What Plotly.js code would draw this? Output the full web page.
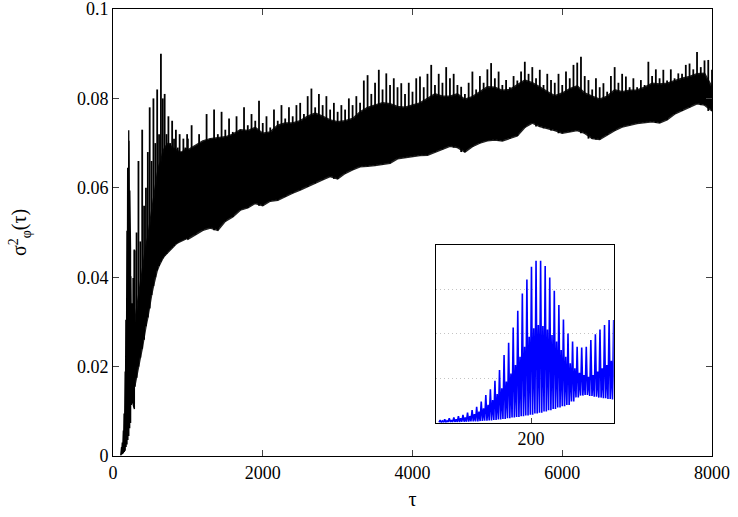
<!DOCTYPE html>
<html><head><meta charset="utf-8">
<script src="https://cdn.plot.ly/plotly-3.0.1.min.js"></script>
<style>html,body{margin:0;padding:0;background:#fff}</style>
</head><body><div id="chart" style="width:738px;height:517px"></div>
<script>
// ---- inset signal (zoom of the first rise, tau ~ 100..287) ----
const insetStartTau = 104.5, insetStepTau = 4.8;
const insetTallPeaks = [0.0012,0.0015,0.0020,0.0024,0.0030,0.0035,0.0045,0.0057,0.0072,0.0095,
  0.0125,0.0150,0.0189,0.0237,0.0305,0.0360,0.0429,0.0504,0.0582,0.0645,
  0.0702,0.0729,0.0729,0.0705,0.0654,0.0594,0.0530,0.0465,0.0402,0.0365,
  0.0342,0.0339,0.0342,0.0372,0.0398,0.0420,0.0440,0.0462,0.0462];
const insetSecondPeaks = [0.0008,0.0009,0.0012,0.0015,0.0020,0.0023,0.0030,0.0039,0.0050,0.0065,
  0.0080,0.0102,0.0129,0.0155,0.0185,0.0222,0.0260,0.0297,0.0342,0.0387,
  0.0425,0.0440,0.0435,0.0420,0.0395,0.0365,0.0327,0.0297,0.0267,0.0245,
  0.0225,0.0215,0.0207,0.0215,0.0230,0.0245,0.0260,0.0279,0.0285];
const insetTroughs = [0.00015,0.00015,0.0003,0.0003,0.0003,0.00045,0.00045,0.0006,0.0006,0.00075,
  0.0009,0.00105,0.0012,0.0015,0.00165,0.0020,0.0023,0.0026,0.0029,0.0032,
  0.0036,0.0041,0.0045,0.0050,0.0056,0.0062,0.0068,0.0074,0.0080,0.0095,
  0.0114,0.0122,0.0125,0.0120,0.0117,0.0113,0.0110,0.0107,0.0105];

// ---- main band: spike tips, solid top of the band, bottom of the band ----
const earlyStartTau = 290, earlyStepTau = 25;
const earlyTips = [0.046,0.050,0.066,0.048,0.073,0.056,0.060,0.068,0.078,0.066,
  0.080,0.070,0.082,0.072,0.090,0.080,0.081,0.072,0.076,0.070,
  0.075,0.071,0.073,0.069,0.072,0.068,0.071,0.069,0.072];
const earlySolidTop = [0.030,0.033,0.036,0.039,0.042,0.045,0.047,0.049,0.052,0.055,
  0.058,0.061,0.063,0.065,0.066,0.068,0.069,0.0695,0.070,0.0695,
  0.069,0.0688,0.0685,0.0683,0.068,0.068,0.0683,0.0685,0.0688];
const earlyLower = [0.0155,0.0175,0.020,0.022,0.024,0.026,0.029,0.031,0.033,0.036,
  0.038,0.040,0.0415,0.0425,0.0435,0.0442,0.0448,0.0452,0.0458,0.0462,
  0.0466,0.047,0.0474,0.0477,0.048,0.0482,0.0484,0.0485,0.0487];

const lateStartTau = 1000, lateTipStep = 50, lateBandStep = 100;
const lateTips = [
  0.071,0.074,0.069,0.072,0.070,0.0765,0.071,0.0775,0.072,0.077,
  0.073,0.0755,0.0725,0.076,0.073,0.078,0.074,0.0765,0.075,0.0795,
  0.0745,0.076,0.0735,0.0775,0.075,0.0785,0.0755,0.078,0.076,0.0785,
  0.079,0.0765,0.0805,0.0822,0.078,0.081,0.0785,0.0805,0.0775,0.079,
  0.077,0.0785,0.0775,0.080,0.0785,0.0805,0.079,0.084,0.0852,0.081,
  0.0835,0.0864,0.082,0.0856,0.083,0.0845,0.0825,0.0834,0.081,0.0835,
  0.0815,0.0845,0.0849,0.0825,0.0855,0.0875,0.083,0.0855,0.0835,0.087,
  0.0845,0.0855,0.083,0.0826,0.081,0.0835,0.086,0.082,0.085,0.0835,
  0.0865,0.0879,0.0845,0.086,0.083,0.0841,0.0825,0.085,0.084,0.086,
  0.0882,0.0855,0.087,0.0845,0.0864,0.083,0.0855,0.0841,0.0835,0.0855,
  0.083,0.086,0.0845,0.0875,0.088,0.0893,0.085,0.0841,0.082,0.0845,
  0.0825,0.0834,0.0815,0.085,0.087,0.0835,0.0855,0.0849,0.0825,0.0845,
  0.0825,0.0841,0.083,0.0882,0.085,0.0865,0.0845,0.0864,0.084,0.0865,
  0.0845,0.0856,0.0855,0.0875,0.0878,0.0865,0.0904,0.087,0.0885,0.0886,
  0.0864];
const lateSolidTop = [
  0.0685,0.0695,0.0705,0.071,0.0712,0.0714,0.072,0.073,0.0728,0.0735,
  0.0722,0.0725,0.074,0.0745,0.0745,0.075,0.076,0.0767,0.076,0.0752,
  0.0748,0.075,0.0755,0.077,0.078,0.0785,0.079,0.0788,0.0782,0.078,
  0.0785,0.079,0.080,0.081,0.0805,0.0805,0.081,0.0798,0.0804,0.0815,
  0.0826,0.0825,0.0818,0.082,0.083,0.0841,0.0835,0.0826,0.0815,0.0806,
  0.0812,0.0822,0.0828,0.0812,0.0805,0.0798,0.0805,0.0819,0.0815,0.0818,
  0.0819,0.0825,0.0834,0.0832,0.0834,0.084,0.0845,0.0849,0.0855,0.0856,
  0.0826];
const lateLower = [
  0.0485,0.0495,0.0505,0.051,0.0505,0.0525,0.0535,0.055,0.0555,0.0565,
  0.056,0.057,0.0572,0.058,0.0588,0.0595,0.0602,0.061,0.0618,0.0625,
  0.062,0.0632,0.064,0.0647,0.0648,0.065,0.0652,0.0655,0.0665,0.0668,
  0.067,0.0672,0.0673,0.068,0.0686,0.0693,0.069,0.068,0.0692,0.070,
  0.0705,0.0707,0.0705,0.071,0.0716,0.0735,0.0745,0.0737,0.0733,0.0728,
  0.0722,0.0725,0.0728,0.0722,0.071,0.0708,0.0718,0.0728,0.0736,0.074,
  0.0744,0.0746,0.0748,0.0745,0.0752,0.0765,0.0772,0.078,0.0788,0.0785,
  0.0772];

const xTickVals = [0,2000,4000,6000,8000];
const yTickVals = [0,0.02,0.04,0.06,0.08,0.1];
const yTickText = ['0','0.02','0.04','0.06','0.08','0.1'];
const insetTickVals = [200];
const insetGridVals = [0.02,0.04,0.06];

// oscillating inset signal assembled from its read peaks/troughs
const q = insetStepTau / 4;
const sigX = [], sigY = [];
for (let k = 0; k < insetTallPeaks.length; k++) {
  const t = insetStartTau + k * insetStepTau;
  sigX.push(t - q, t, t + q, t + 2 * q);
  sigY.push(insetTroughs[k], insetTallPeaks[k], insetTroughs[k], insetSecondPeaks[k]);
}

// solid band polygon (solid top left->right, bottom right->left)
const bandTopX = [], bandTopY = [], bandLoX = [], bandLoY = [];
earlySolidTop.forEach((v, i) => { bandTopX.push(earlyStartTau + i * earlyStepTau); bandTopY.push(v); });
lateSolidTop.forEach((v, i) => { bandTopX.push(lateStartTau + i * lateBandStep); bandTopY.push(v); });
earlyLower.forEach((v, i) => { bandLoX.push(earlyStartTau + i * earlyStepTau); bandLoY.push(v); });
lateLower.forEach((v, i) => { bandLoX.push(lateStartTau + i * lateBandStep); bandLoY.push(v); });
const bandX = bandTopX.concat(bandLoX.slice().reverse());
const bandY = bandTopY.concat(bandLoY.slice().reverse());

// spikes: vertical strokes from the band bottom up to each tip
const spikeX = [], spikeY = [];
earlyTips.forEach((v, i) => {
  const t = earlyStartTau + i * earlyStepTau;
  spikeX.push(t, t, null); spikeY.push(earlyLower[i], v, null);
});
lateTips.forEach((v, i) => {
  const t = lateStartTau + i * lateTipStep;
  const j = Math.min(Math.round(i * lateTipStep / lateBandStep), lateLower.length - 1);
  spikeX.push(t, t, null); spikeY.push(lateLower[j], v, null);
});

const font = 'Liberation Serif';
const traces = [
  {x: sigX, y: sigY, type: 'scatter', mode: 'lines', line: {color: 'black', width: 1.3},
   xaxis: 'x', yaxis: 'y', hoverinfo: 'skip'},
  {x: bandX, y: bandY, type: 'scatter', mode: 'lines', fill: 'toself', fillcolor: 'black',
   line: {color: '#222', width: 1.5}, xaxis: 'x', yaxis: 'y', hoverinfo: 'skip'},
  {x: spikeX, y: spikeY, type: 'scatter', mode: 'lines', connectgaps: false,
   line: {color: 'black', width: 1.8}, xaxis: 'x', yaxis: 'y', hoverinfo: 'skip'},
  {x: sigX, y: sigY, type: 'scatter', mode: 'lines', line: {color: '#0000ff', width: 1.6},
   xaxis: 'x2', yaxis: 'y2', hoverinfo: 'skip'}
];

const layout = {
  width: 738, height: 517,
  margin: {l: 113, r: 26, t: 9, b: 61},
  showlegend: false,
  paper_bgcolor: 'white', plot_bgcolor: 'white',
  font: {family: font, size: 18, color: 'black'},
  xaxis: {
    range: [0, 8000], tickvals: xTickVals, ticks: 'inside', ticklen: 6, tickcolor: '#444',
    showline: true, linecolor: 'black', linewidth: 1, mirror: 'ticks',
    showgrid: false, zeroline: false, automargin: false, ticklabeloverflow: 'allow',
    title: {text: 'τ', font: {family: font, size: 20}, standoff: 10}
  },
  yaxis: {
    range: [0, 0.1], tickvals: yTickVals, ticktext: yTickText, ticks: 'inside', ticklen: 6, tickcolor: '#444',
    showline: true, linecolor: 'black', linewidth: 1, mirror: 'ticks',
    showgrid: false, zeroline: false, automargin: false, ticklabeloverflow: 'allow',
    title: {text: 'σ<sup>2</sup><sub>φ</sub>(τ)', font: {family: font, size: 20}, standoff: 44}
  },
  xaxis2: {
    domain: [0.539, 0.836], anchor: 'y2', range: [100, 287], tickvals: insetTickVals,
    ticks: 'inside', ticklen: 5, tickcolor: '#444',
    showline: true, linecolor: 'black', linewidth: 1, mirror: true,
    showgrid: false, zeroline: false
  },
  yaxis2: {
    domain: [0.0745, 0.472], anchor: 'x2', range: [0, 0.08], tickvals: insetGridVals,
    showticklabels: false, ticks: '',
    showgrid: true, gridcolor: '#c4c4c4', griddash: '1px,3px', gridwidth: 1,
    showline: true, linecolor: 'black', linewidth: 1, mirror: true, zeroline: false
  }
};

Plotly.newPlot('chart', traces, layout, {displayModeBar: false, staticPlot: true});
</script>
</body></html>
